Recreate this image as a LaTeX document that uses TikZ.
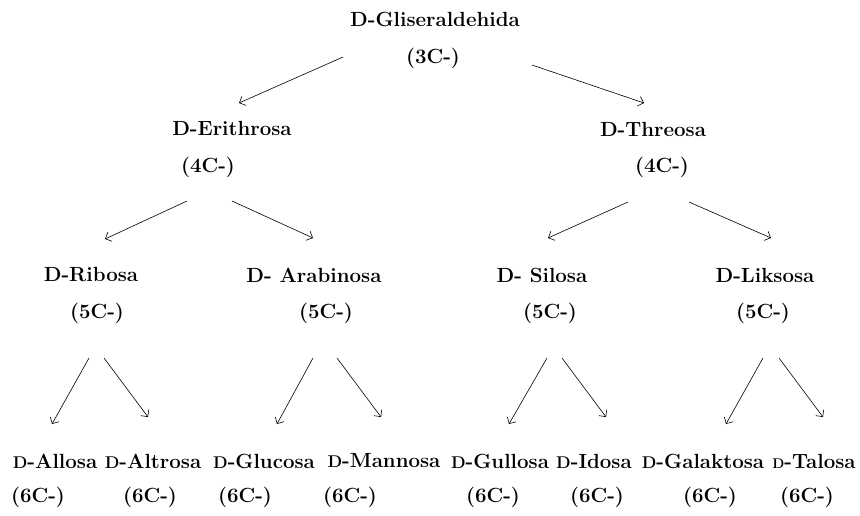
\documentclass[tikz,border=0pt]{standalone}
\usetikzlibrary{arrows.meta}
\newcommand{\sD}{{\fontsize{17}{17}\selectfont D}}
\tikzset{
  sugar/.style={font=\fontsize{20.5}{24}\selectfont\bfseries, inner sep=0pt},
  arr/.style={-{Straight Barb[length=5pt,width=10pt]}, line width=0.6pt}
}
\begin{document}
\begin{tikzpicture}[x=1pt,y=-1pt]
  \useasboundingbox (0,0) rectangle (860,515);
  % 3C
  \node[sugar] (gli) at (435,19) {D-Gliseraldehida};
  \node[sugar] (c3) at (433,58) {(3C-)};
  % 4C
  \node[sugar] (eri) at (232,128) {D-Erithrosa};
  \node[sugar] (c4a) at (208,167) {(4C-)};
  \node[sugar] (thr) at (653,129) {D-Threosa};
  \node[sugar] (c4b) at (662,167) {(4C-)};
  % 5C
  \node[sugar] (rib) at (91,275) {D-Ribosa};
  \node[sugar] (c5a) at (97,313) {(5C-)};
  \node[sugar] (ara) at (314,275) {D- Arabinosa};
  \node[sugar] (c5b) at (326,313) {(5C-)};
  \node[sugar] (sil) at (542,275) {D- Silosa};
  \node[sugar] (c5c) at (550,313) {(5C-)};
  \node[sugar] (lik) at (765,275) {D-Liksosa};
  \node[sugar] (c5d) at (763,313) {(5C-)};
  % 6C
  \foreach \n/\x/\cx/\t in {all/55/38/Allosa, alt/153/150/Altrosa, glu/264/245/Glucosa,
      man/384/350/Mannosa, gul/500/493/Gullosa, ido/594/597/Idosa, gal/703/710/Galaktosa}{
    \node[sugar] (\n) at (\x,461) {\sD-\t};
    \node[sugar] (\n6) at (\cx,497) {(6C-)};
  }
  \node[sugar] (tal) at (814,461) {{\fontsize{14}{14}\selectfont D}-Talosa};
  \node[sugar] (tal6) at (807,497) {(6C-)};

  \draw[arr] ([shift={(-90,-1)}]c3.center) -- ([shift={(7,-25)}]eri.center);
  \draw[arr] ([shift={(99,7)}]c3.center) -- ([shift={(-9,-26)}]thr.center);
  \draw[arr] ([shift={(-21,34)}]c4a.center) -- ([shift={(14,-36)}]rib.center);
  \draw[arr] ([shift={(24,34)}]c4a.center) -- ([shift={(-1,-37)}]ara.center);
  \draw[arr] ([shift={(-34,35)}]c4b.center) -- ([shift={(6,-37)}]sil.center);
  \draw[arr] ([shift={(27,35)}]c4b.center) -- ([shift={(6,-37)}]lik.center);

  \draw[arr] ([shift={(-8,45)}]c5a.center) -- ([shift={(-3,-37)}]all.center);
  \draw[arr] ([shift={(7,45)}]c5a.center) -- ([shift={(-5,-44)}]alt.center);
  \draw[arr] ([shift={(-13,45)}]c5b.center) -- ([shift={(13,-37)}]glu.center);
  \draw[arr] ([shift={(11,45)}]c5b.center) -- ([shift={(-3,-44)}]man.center);
  \draw[arr] ([shift={(-3,45)}]c5c.center) -- ([shift={(9,-37)}]gul.center);
  \draw[arr] ([shift={(12,45)}]c5c.center) -- ([shift={(12,-44)}]ido.center);
  \draw[arr] ([shift={(0,45)}]c5d.center) -- ([shift={(23,-37)}]gal.center);
  \draw[arr] ([shift={(16,45)}]c5d.center) -- ([shift={(9,-44)}]tal.center);
\end{tikzpicture}
\end{document}
